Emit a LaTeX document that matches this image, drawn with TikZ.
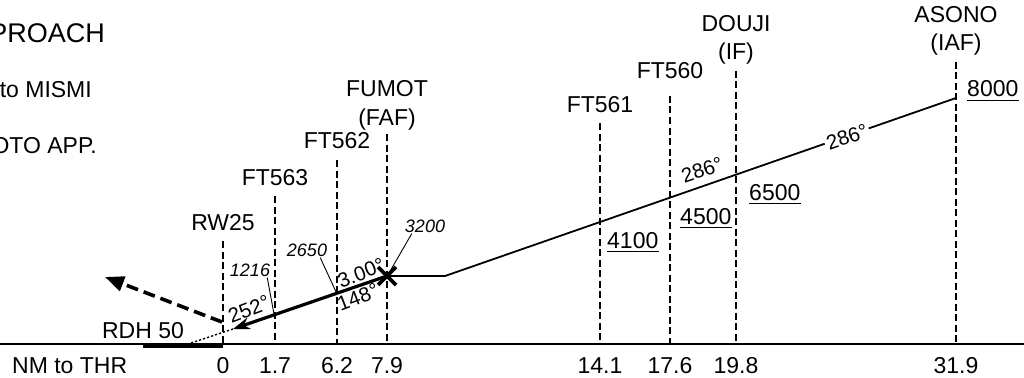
\documentclass[tikz,border=0pt]{standalone}
\usepackage{fontspec}
\setmainfont{Liberation Sans}
\usetikzlibrary{arrows.meta,calc}
\begin{document}
\begin{tikzpicture}[x=1pt,y=-1pt,
 lbl/.style={font=\fontsize{23}{26}\selectfont, anchor=base, inner sep=0pt},
 alt/.style={lbl, anchor=base west},
 ital/.style={font=\fontsize{18}{20}\selectfont\itshape, anchor=center, inner sep=0pt},
 ang/.style={font=\fontsize{20.5}{22}\selectfont, inner sep=1pt},
 fixline/.style={dash pattern=on 7pt off 3.5pt, line width=1.4pt},
 prof/.style={line width=1.8pt},
 lead/.style={line width=0.9pt},
 uline/.style={line width=1.3pt}]
\useasboundingbox (0,0) rectangle (1024,377);

% left title fragments
\node[lbl, anchor=base east, font=\fontsize{27}{30}\selectfont] (t1) at (105,43) {PROACH};
\node[lbl, anchor=base east] (t2) at (92,98) {to MISMI};
\node[lbl, anchor=base east] (t3) at (97,153) {OTO APP.};

% axis
\coordinate (axL) at (0,344);
\coordinate (axR) at (1024,344);
\draw[line width=1.2pt] (axL) -- (axR);

% fix labels
\node[lbl] (rw)  at (223,230) {RW25};
\node[lbl] (f563) at (275,185) {FT563};
\node[lbl] (f562) at (337,148) {FT562};
\node[lbl] (fum) at (387,97) {FUMOT};
\node[lbl] (fumb) at (387,125) {(FAF)};
\node[lbl] (f561) at (600,113) {FT561};
\node[lbl] (f560) at (670,79) {FT560};
\node[lbl] (dou) at (736,32) {DOUJI};
\node[lbl] (doub) at (736,60) {(IF)};
\node[lbl] (aso) at (956,23) {ASONO};
\node[lbl] (asob) at (956,51) {(IAF)};

% fix dashed lines
\foreach \n/\x/\t in {rw/223/241, f563/275/196, f562/337/160, fum/387/134, f561/600/123, f560/670/96, dou/736/71, aso/956/62}{
  \coordinate (\n T) at (\x,\t);
  \coordinate (\n B) at (\x,344);
  \draw[fixline] (\n T) -- (\n B);
}

% distance labels
\node[lbl, anchor=base west] (nm) at (12,373) {NM to THR};
\foreach \n/\x/\d in {d0/223/0, d1/275/1.7, d2/337/6.2, d3/387/7.9, d4/600/14.1, d5/670/17.6, d6/736/19.8, d7/956/31.9}{
  \node[lbl] (\n) at (\x,373) {\d};
}

% runway and RDH
\coordinate (rwyL) at (143,346);
\coordinate (rwyR) at (223,346);
\draw[line width=3.8pt] (rwyL) -- (rwyR);
\node[lbl] (rdh) at (143,338) {RDH 50};

% profile
\coordinate (faf) at (387,276);
\coordinate (bend) at (445,276);
\coordinate (iaf) at (956,98);
\coordinate (tip) at (233,329);
\coordinate (dotend) at (188,344);
\draw[prof] (faf) -- (bend) -- (iaf);
\draw[line width=3.2pt, -{Stealth[length=17pt,width=12pt]}] (faf) -- (tip);
\draw[line width=1.4pt, dash pattern=on 2.2pt off 2pt] (tip) -- (dotend);

% missed approach
\coordinate (maS) at (222,322);
\coordinate (maE) at (105,277);
\draw[line width=3.6pt, dash pattern=on 12pt off 6pt, -{Triangle[length=19pt,width=15pt]}] (maS) -- (maE);

% FAF cross
\coordinate (c1) at (378,267); \coordinate (c2) at (396,285);
\coordinate (c3) at (378,285); \coordinate (c4) at (396,267);
\draw[line width=3.8pt] (c1) -- (c2) (c3) -- (c4);

% angle labels
\node[ang, rotate=21] (a252) at (249,309) {252°};
\node[ang, rotate=21] (a300) at (361,273) {3.00°};
\node[ang, rotate=21] (a148) at (358,297) {148°};
\node[ang, rotate=19] (a286a) at (702,170) {286°};
\node[ang, rotate=19, fill=white, inner sep=2pt] (a286b) at (847,137) {286°};

% altitude labels
\node[alt] (h8000) at (967,97) {8000};
\node[alt] (h6500) at (749,200) {6500};
\node[alt] (h4500) at (680,224) {4500};
\node[alt] (h4100) at (607,248) {4100};
\foreach \n in {h8000,h6500,h4500,h4100}{
  \draw[uline] ($(\n.south west)+(0,3)$) -- ($(\n.south east)+(0,3)$);
}

% italic altitudes with leaders
\node[ital] (i1216) at (250,270) {1216};
\node[ital] (i2650) at (307,250) {2650};
\node[ital] (i3200) at (425,226) {3200};
\coordinate (p1216) at (274,314);
\coordinate (p2650) at (337,294);
\coordinate (p3200) at (389,273);
\draw[lead] ($(i1216.south east)+(-3,1)$) -- (p1216);
\draw[lead] ($(i2650.south east)+(-7,1)$) -- (p2650);
\draw[lead] ($(i3200.south west)+(7,1)$) -- (p3200);
\end{tikzpicture}
\end{document}
